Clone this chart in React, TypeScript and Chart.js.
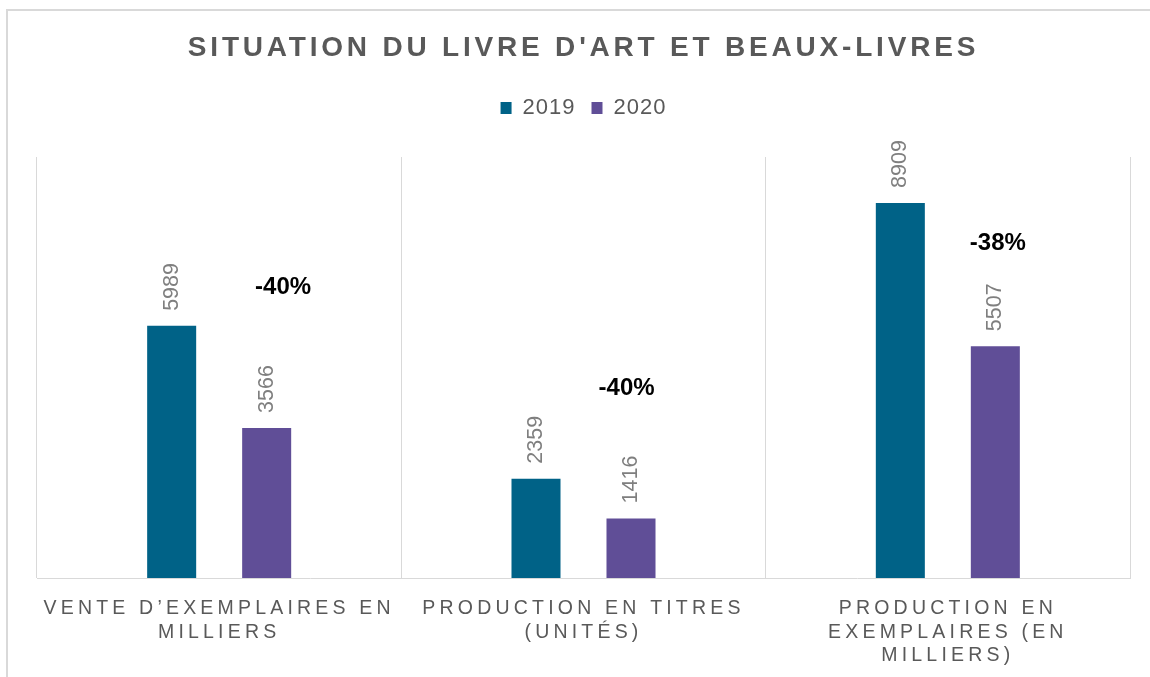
import React, { useEffect, useRef } from 'react';
import { Chart, registerables } from 'chart.js';

Chart.register(...registerables);

// ---- data ----
const categories: string[][] = [
  ['VENTE D’EXEMPLAIRES EN', 'MILLIERS'],
  ['PRODUCTION EN TITRES', '(UNITÉS)'],
  ['PRODUCTION EN', 'EXEMPLAIRES (EN', 'MILLIERS)'],
];
const seriesNames = ['2019', '2020'];
const values2019 = [5989, 2359, 8909];
const values2020 = [3566, 1416, 5507];
const changeLabels = ['-40%', '-40%', '-38%'];
// vertical level (in data units) where each change label sits
const changeLabelLevels = [6900, 4500, 7950];
// horizontal shift of each change label, in fractions of a category
const changeLabelShift = [0.045, -0.012, 0.007];
const yMax = 10000;
const chartTitle = "SITUATION DU LIVRE D'ART ET BEAUX-LIVRES";

// ---- style ----
const FAMILY = "'Liberation Sans', Arial, sans-serif";
const TEXT_GREY = '#595959';
const LABEL_GREY = '#7f7f7f';
const GRID = '#d9d9d9';
const COLOR_2019 = '#006287';
const COLOR_2020 = '#604e97';
const letterSpacingBySize: Record<string, number> = { '28': 3.8, '19.5': 4.2, '22': 1 };

function spacingFor(font: string): string {
  const m = /(\d+(?:\.\d+)?)px/.exec(font);
  const key = m ? String(parseFloat(m[1])) : '';
  const s = letterSpacingBySize[key];
  return s ? s + 'px' : '0px';
}

const labelPlugin = {
  id: 'valueLabels',
  afterDatasetsDraw(chart: any) {
    const ctx: CanvasRenderingContext2D = chart.ctx;
    ctx.save();
    ctx.font = `21.5px ${FAMILY}`;
    ctx.fillStyle = LABEL_GREY;
    ctx.textAlign = 'left';
    ctx.textBaseline = 'middle';
    chart.data.datasets.forEach((ds: any, di: number) => {
      const meta = chart.getDatasetMeta(di);
      meta.data.forEach((bar: any, i: number) => {
        ctx.save();
        ctx.translate(bar.x, bar.y - 15);
        ctx.rotate(-Math.PI / 2);
        ctx.fillText(String(ds.data[i]), 0, 0);
        ctx.restore();
      });
    });
    const xScale = chart.scales.x;
    const yScale = chart.scales.y;
    const catW = xScale.width / categories.length;
    const meta2020 = chart.getDatasetMeta(1);
    ctx.font = `bold 24px ${FAMILY}`;
    ctx.fillStyle = '#000000';
    ctx.textAlign = 'center';
    changeLabels.forEach((t, i) => {
      const bar = meta2020.data[i];
      const x = bar.x + changeLabelShift[i] * catW;
      const y = yScale.getPixelForValue(changeLabelLevels[i]);
      ctx.fillText(t, x, y);
    });
    ctx.restore();
  },
};

export default function App() {
  const ref = useRef<HTMLCanvasElement>(null);
  useEffect(() => {
    const canvas = ref.current!;
    const ctx = canvas.getContext('2d') as any;
    if (!ctx.__spacingPatched) {
      const origFill = ctx.fillText.bind(ctx);
      const origMeasure = ctx.measureText.bind(ctx);
      ctx.fillText = (t: string, x: number, y: number, mw?: number) => {
        ctx.letterSpacing = spacingFor(ctx.font);
        if (mw === undefined) origFill(t, x, y);
        else origFill(t, x, y, mw);
      };
      ctx.measureText = (t: string) => {
        ctx.letterSpacing = spacingFor(ctx.font);
        return origMeasure(t);
      };
      ctx.__spacingPatched = true;
    }
    const chart = new Chart(canvas, {
      type: 'bar',
      data: {
        labels: categories,
        datasets: [
          {
            label: seriesNames[0],
            data: values2019,
            backgroundColor: COLOR_2019,
            borderWidth: 0,
            categoryPercentage: 0.5215,
            barPercentage: 0.516,
          },
          {
            label: seriesNames[1],
            data: values2020,
            backgroundColor: COLOR_2020,
            borderWidth: 0,
            categoryPercentage: 0.5215,
            barPercentage: 0.516,
          },
        ],
      },
      options: {
        responsive: false,
        animation: false,
        events: [],
        layout: { padding: { left: 37, right: 37, top: 0, bottom: 13.5 } },
        plugins: {
          title: {
            display: true,
            text: chartTitle,
            color: TEXT_GREY,
            font: { family: FAMILY, size: 28, weight: 'bold', lineHeight: 1.2 },
            padding: { top: 31.2, bottom: 16.2 },
          },
          legend: {
            display: true,
            position: 'top',
            labels: {
              boxWidth: 11,
              boxHeight: 12,
              padding: 16,
              color: TEXT_GREY,
              font: { family: FAMILY, size: 22 },
            },
          },
          subtitle: {
            display: true,
            text: ' ',
            weight: 500,
            font: { family: FAMILY, size: 10, lineHeight: 1 },
            padding: { top: 0, bottom: 18 },
          } as any,
          tooltip: { enabled: false },
        },
        scales: {
          x: {
            grid: { display: true, color: GRID, lineWidth: 1, drawTicks: false, offset: true },
            border: { display: true, color: GRID, width: 1 },
            ticks: {
              color: TEXT_GREY,
              font: { family: FAMILY, size: 19.5, lineHeight: 1.205 },
              padding: 19,
              autoSkip: false,
              maxRotation: 0,
              minRotation: 0,
            },
          },
          y: { display: false, min: 0, max: yMax },
        },
      },
      plugins: [labelPlugin],
    } as any);
    return () => chart.destroy();
  }, []);

  return (
    <div
      style={{
        position: 'fixed',
        left: 0,
        top: 0,
        width: 1150,
        height: 677,
        overflow: 'hidden',
        background: '#ffffff',
      }}
    >
      <div
        style={{
          position: 'absolute',
          left: 6,
          top: 9,
          width: 1300,
          height: 900,
          borderLeft: `2px solid ${GRID}`,
          borderTop: `2px solid ${GRID}`,
        }}
      />
      <canvas ref={ref} width={1167} height={700} style={{ position: 'absolute', left: 0, top: 0 }} />
    </div>
  );
}
